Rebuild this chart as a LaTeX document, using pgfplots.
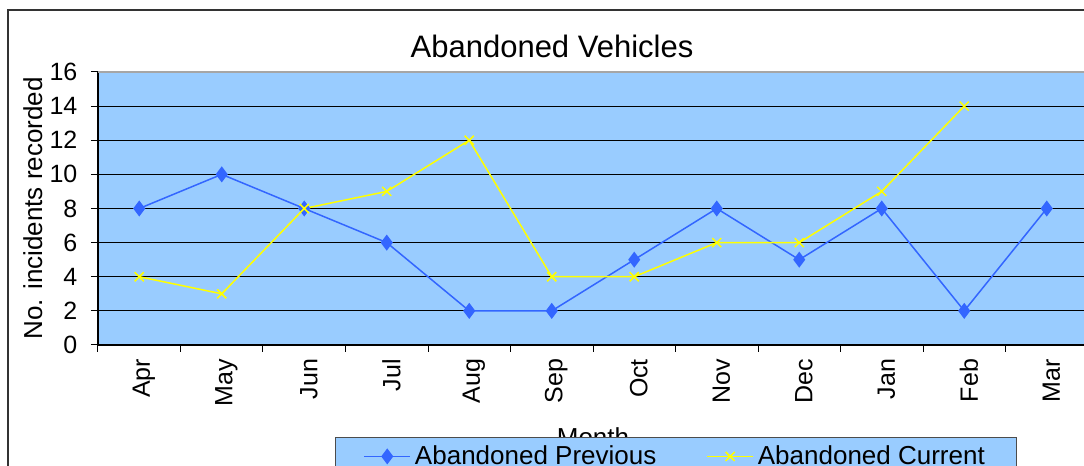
\documentclass[border=0pt]{standalone}
\usepackage{fontspec}
\setmainfont{Liberation Sans}
\usepackage{pgfplots}
\pgfplotsset{compat=1.18}

\definecolor{plotbg}{HTML}{99CCFF}
\definecolor{prevblue}{HTML}{3366FF}
\definecolor{curyellow}{HTML}{FFFF00}

\begin{document}
\begin{tikzpicture}
% outer chart frame (only left and top edges are in view)
\draw[line width=0.8pt, black!80] (4pt,-10pt) -- (4pt,228pt) -- (560pt,228pt);
\node[font=\fontsize{15.5}{18}\selectfont] at (276pt,210pt) {Abandoned Vehicles};

\begin{axis}[
    at={(49pt,60.5pt)}, anchor=south west,
    scale only axis,
    width=495pt, height=136.5pt,
    xmin=-0.5, xmax=11.5,
    ymin=0, ymax=16,
    axis background/.style={fill=plotbg},
    axis x line*=bottom, axis y line*=left,
    axis line style={black, line width=0.6pt},
    tick align=outside,
    major tick length=3.5pt, minor tick length=3.5pt,
    xtick={0,...,11},
    xticklabels={Apr,May,Jun,Jul,Aug,Sep,Oct,Nov,Dec,Jan,Feb,Mar},
    x tick style={draw=none},
    minor xtick={-0.5,0.5,...,11.5},
    minor x tick style={draw=black, line width=0.5pt},
    ytick={0,2,...,14},
    extra y ticks={16},
    extra y tick style={major grid style={gray!70, line width=0.8pt}},
    y tick style={black, line width=0.5pt},
    ymajorgrids,
    major grid style={black, line width=0.5pt},
    tick label style={font=\fontsize{12.5}{15}\selectfont},
    /pgf/number format/assume math mode=true,
    x tick label style={rotate=90, anchor=east, yshift=-2.3pt},
    y tick label style={xshift=-3.3pt},
    xlabel={Month},
    ylabel={No. incidents recorded},
    every axis x label/.style={at={(axis description cs:0.5,-0.278)}, anchor=north,
        font=\fontsize{13}{15}\selectfont},
    every axis y label/.style={at={(axis description cs:-0.0657,0.5)}, anchor=center, rotate=90,
        font=\fontsize{13}{15}\selectfont},
    legend columns=2,
    legend style={
        at={(axis description cs:0.2394,-0.337)}, anchor=north west,
        fill=plotbg, draw=black!70, line width=0.5pt,
        font=\fontsize{13}{15}\selectfont,
        inner xsep=14pt, inner ysep=2pt,
        /tikz/every even column/.append style={column sep=23pt},
    },
    legend image code/.code={
        \draw[mark repeat=2, mark phase=2] plot coordinates {(0pt,0pt) (11.5pt,0pt) (23pt,0pt)};
    },
]
\addplot[color=prevblue, line width=0.75pt, mark=diamond*, mark size=3.4pt,
    mark options={fill=prevblue, draw=prevblue}]
coordinates {
    (0,8) (1,10) (2,8) (3,6) (4,2) (5,2)
    (6,5) (7,8) (8,5) (9,8) (10,2) (11,8)
};
\addlegendentry{Abandoned Previous}

\addplot[color=curyellow, line width=0.75pt, mark=x, mark size=3.2pt]
coordinates {
    (0,4) (1,3) (2,8) (3,9) (4,12) (5,4)
    (6,4) (7,6) (8,6) (9,9) (10,14)
};
\addlegendentry{Abandoned Current}
\end{axis}

\pgfresetboundingbox
\path[use as bounding box] (0,0) rectangle (542pt,233pt);
\end{tikzpicture}
\end{document}
